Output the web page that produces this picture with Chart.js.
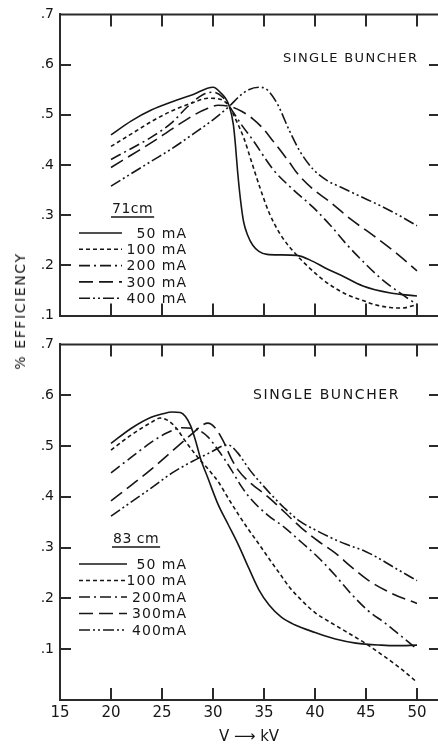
<!DOCTYPE html>
<html>
<head>
<meta charset="utf-8">
<title>% Efficiency vs V — single buncher</title>
<script src="https://cdn.jsdelivr.net/npm/chart.js@4.4.1/dist/chart.umd.min.js"></script>
<style>
  html, body { margin: 0; padding: 0; background: #fff; overflow: hidden; }
  #page { position: relative; width: 438px; height: 748px; }
  .box { position: absolute; left: 0; width: 438px; }
  #boxTop { top: 0; height: 330px; }
  #boxBot { top: 330px; height: 418px; }
  #yTitle {
    position: absolute; left: 20px; top: 311px;
    transform: translate(-50%, -50%) rotate(-90deg);
    font: 14px "DejaVu Sans", sans-serif; letter-spacing: 1.6px;
    color: #161616; white-space: nowrap;
  }
</style>
</head>
<body>
<div id="page">
  <div class="box" id="boxTop"><canvas id="chartTop"></canvas></div>
  <div class="box" id="boxBot"><canvas id="chartBot"></canvas></div>
  <div id="yTitle">% EFFICIENCY</div>
</div>
<script>
// ===== Valores (kV, eficiência)
const labels71 = ['50 mA', '100 mA', '200 mA', '300 mA', '400 mA'];
const labels83 = ['50 mA', '100 mA', '200mA', '300mA', '400mA'];

// --- 71 cm
const kv71_50   = [20, 22, 24, 26, 28, 30, 30.7, 31.6, 32, 32.2, 32.4, 32.7, 33, 33.4, 33.9, 34.5, 35.3, 36.5, 38.2, 39.8, 41, 42.5, 44.7, 47.4, 50];
const eff71_50  = [0.46, 0.488, 0.51, 0.526, 0.54, 0.555, 0.545, 0.517, 0.48, 0.44, 0.39, 0.33, 0.287, 0.26, 0.24, 0.228, 0.222, 0.221, 0.22, 0.208, 0.195, 0.181, 0.159, 0.145, 0.139];
const kv71_100  = [20, 22, 24, 26, 28, 29.5, 30.5, 31.6, 32.2, 33, 33.8, 34.6, 35.5, 36.6, 38, 39.2, 40.5, 41.5, 43, 44.7, 46, 47.4, 48.5, 50];
const eff71_100 = [0.437, 0.462, 0.487, 0.508, 0.524, 0.533, 0.532, 0.517, 0.492, 0.455, 0.405, 0.355, 0.305, 0.262, 0.225, 0.2, 0.176, 0.161, 0.143, 0.13, 0.121, 0.116, 0.115, 0.122];
const kv71_200  = [20, 22, 24, 26, 27.5, 29, 30, 31, 31.6, 32.8, 33.9, 35.9, 37.8, 39.8, 41.5, 43.1, 44.8, 46.4, 48.2, 50];
const eff71_200 = [0.411, 0.433, 0.456, 0.485, 0.516, 0.54, 0.545, 0.534, 0.517, 0.48, 0.45, 0.391, 0.352, 0.316, 0.28, 0.242, 0.206, 0.175, 0.147, 0.122];
const kv71_300  = [20, 22, 24, 26, 28, 29.5, 30.5, 31.6, 32.8, 33.9, 34.8, 35.8, 37.5, 38.2, 39.8, 41.5, 43.5, 45.7, 48, 50];
const eff71_300 = [0.395, 0.42, 0.445, 0.472, 0.498, 0.513, 0.519, 0.517, 0.507, 0.492, 0.475, 0.45, 0.405, 0.385, 0.352, 0.326, 0.292, 0.26, 0.224, 0.189];
const kv71_400  = [20, 22, 24, 26, 28, 30, 31.6, 32.6, 33.5, 34.5, 35.3, 36.3, 37.5, 38.5, 39.8, 41.2, 42.5, 44.5, 46.4, 48.2, 50];
const eff71_400 = [0.358, 0.383, 0.408, 0.433, 0.461, 0.49, 0.517, 0.537, 0.55, 0.555, 0.55, 0.522, 0.468, 0.428, 0.392, 0.369, 0.356, 0.337, 0.319, 0.3, 0.279];

// --- 83 cm
const kv83_50   = [20, 22, 24, 25, 26, 26.8, 27.3, 27.8, 28.3, 28.8, 29.5, 30.5, 31.5, 32.5, 33.5, 34.5, 35.5, 36.7, 38, 40, 42, 44, 46.5, 48, 50];
const eff83_50  = [0.505, 0.535, 0.557, 0.563, 0.567, 0.566, 0.558, 0.54, 0.51, 0.474, 0.437, 0.385, 0.345, 0.305, 0.26, 0.217, 0.187, 0.163, 0.148, 0.133, 0.12, 0.112, 0.108, 0.107, 0.108];
const kv83_100  = [20, 22, 24, 24.8, 25.6, 26.5, 27.2, 28.5, 29.5, 30.5, 31.5, 32.5, 33.5, 34.5, 35.5, 36.5, 37.5, 38.5, 40, 41.5, 43, 44.9, 46.5, 48.4, 50];
const eff83_100 = [0.492, 0.522, 0.547, 0.555, 0.55, 0.533, 0.512, 0.478, 0.455, 0.43, 0.397, 0.365, 0.335, 0.307, 0.278, 0.25, 0.222, 0.2, 0.172, 0.153, 0.135, 0.112, 0.09, 0.062, 0.035];
const kv83_200  = [20, 22, 24, 25.5, 27, 28.5, 29.5, 30.5, 31.2, 31.8, 32.8, 33.7, 35.3, 37, 38.7, 40.3, 42, 43.5, 45.2, 46.9, 48.5, 50];
const eff83_200 = [0.447, 0.478, 0.508, 0.526, 0.536, 0.532, 0.518, 0.492, 0.472, 0.453, 0.42, 0.396, 0.365, 0.34, 0.31, 0.281, 0.245, 0.21, 0.176, 0.151, 0.125, 0.1];
const kv83_300  = [20, 22, 24, 26, 28, 28.8, 29.5, 30.2, 31, 31.8, 32.45, 33.5, 35.4, 37, 38.6, 40.3, 42, 43.5, 45.2, 47.5, 50];
const eff83_300 = [0.392, 0.423, 0.455, 0.49, 0.525, 0.539, 0.545, 0.536, 0.51, 0.475, 0.453, 0.43, 0.4, 0.37, 0.34, 0.313, 0.289, 0.263, 0.236, 0.21, 0.19];
const kv83_400  = [20, 22, 24, 26, 28, 30, 30.8, 31.5, 32.4, 33.6, 35, 36, 37, 38.5, 40, 41.5, 43, 45, 46.5, 48, 50];
const eff83_400 = [0.362, 0.39, 0.418, 0.447, 0.47, 0.49, 0.499, 0.502, 0.487, 0.453, 0.42, 0.398, 0.378, 0.352, 0.335, 0.32, 0.307, 0.292, 0.276, 0.258, 0.235];

// ===== Estilo
const FONT = '"DejaVu Sans", sans-serif';
const INK = '#161616';
const AXIS = '#2a2a2a';
const DASHES = [[], [4, 3], [11, 4, 2, 4], [14, 6], [11, 3, 2, 3, 2, 3]];

function pts(xs, ys) { return xs.map((v, i) => ({ x: v, y: ys[i] })); }

function makeDatasets(labels, pairs) {
  return pairs.map(([xs, ys], i) => ({
    label: labels[i],
    data: pts(xs, ys),
    borderColor: INK,
    borderWidth: 1.6,
    borderDash: DASHES[i],
    pointRadius: 0,
    fill: false,
    cubicInterpolationMode: 'monotone'
  }));
}

function seg(ctx, x0, y0, x1, y1) {
  ctx.beginPath(); ctx.moveTo(x0, y0); ctx.lineTo(x1, y1); ctx.stroke();
}

// moldura de cima, ticks para dentro, título e legenda dentro do gráfico
const notesPlugin = {
  id: 'notes',
  afterDraw(chart, _args, o) {
    const { ctx, chartArea: a, scales: { x, y } } = chart;
    ctx.save();
    ctx.strokeStyle = AXIS; ctx.lineWidth = 2; ctx.setLineDash([]);
    seg(ctx, a.left - 1, a.top, a.right, a.top);
    x.ticks.forEach(t => {
      if (t.value <= x.min + 1e-6) return;
      const px = Math.round(x.getPixelForValue(t.value));
      seg(ctx, px, a.top, px, a.top + 12);
      seg(ctx, px, a.bottom, px, a.bottom - 12);
    });
    y.ticks.forEach(t => {
      if (t.value <= y.min + 1e-6 || t.value >= y.max - 1e-6) return;
      const py = Math.round(y.getPixelForValue(t.value));
      seg(ctx, a.left, py, a.left + 11, py);
      seg(ctx, a.right - 9, py, a.right, py);
    });

    ctx.fillStyle = INK;
    ctx.textAlign = 'left'; ctx.textBaseline = 'alphabetic';
    ctx.font = `${o.titleSize}px ${FONT}`;
    ctx.letterSpacing = o.titleSpacing + 'px';
    ctx.fillText(o.title, o.titleX, o.titleY);

    ctx.font = `14px ${FONT}`;
    ctx.letterSpacing = '0.5px';
    ctx.fillText(o.header, o.headerX, o.headerY);
    const hw = ctx.measureText(o.header).width;
    ctx.lineWidth = 1.6; ctx.strokeStyle = INK;
    seg(ctx, o.headerX - 1, o.headerY + 4, o.headerX + hw + 1, o.headerY + 4);

    ctx.letterSpacing = '1px';
    ctx.textAlign = 'right'; ctx.textBaseline = 'middle';
    chart.data.datasets.forEach((ds, i) => {
      const ry = o.rowY + i * o.rowDy;
      ctx.setLineDash(ds.borderDash);
      seg(ctx, o.lineX0, ry, o.lineX1, ry);
      ctx.setLineDash([]);
      ctx.fillText(ds.label, o.textRight, ry + 1);
    });
    ctx.restore();
  }
};

function panelOptions(yMin, xAxisH, showX, notes) {
  return {
    responsive: true,
    maintainAspectRatio: false,
    animation: false,
    layout: { padding: { top: 13, left: 0, right: 0, bottom: 0 } },
    plugins: { legend: { display: false }, tooltip: { enabled: false }, notes },
    scales: {
      x: {
        type: 'linear', min: 15, max: 52.06,
        grid: { display: false, drawTicks: false },
        border: { display: true, color: AXIS, width: 2 },
        ticks: {
          display: showX, stepSize: 5, includeBounds: false, padding: 4,
          maxRotation: 0, autoSkip: false, color: INK,
          font: { family: FONT, size: 15 }
        },
        title: {
          display: showX, text: 'V ⟶ kV', color: INK,
          font: { family: FONT, size: 15 }, padding: { top: 0, bottom: 2 }
        },
        afterFit: s => { s.height = xAxisH; }
      },
      y: {
        type: 'linear', min: yMin, max: 0.7,
        grid: { display: false, drawTicks: false },
        border: { display: true, color: AXIS, width: 2 },
        ticks: {
          stepSize: 0.1, padding: 6, color: INK,
          font: { family: FONT, size: 14 },
          callback: v => v < 0.05 ? '' : v.toFixed(1).replace(/^0/, '')
        },
        afterFit: s => { s.width = 60; }
      }
    }
  };
}

new Chart(document.getElementById('chartTop'), {
  type: 'line',
  data: {
    datasets: makeDatasets(labels71, [
      [kv71_50, eff71_50], [kv71_100, eff71_100], [kv71_200, eff71_200],
      [kv71_300, eff71_300], [kv71_400, eff71_400]
    ])
  },
  options: panelOptions(0.1, 12, false, {
    title: 'SINGLE BUNCHER', titleX: 283, titleY: 62, titleSize: 13, titleSpacing: 1.4,
    header: '71cm', headerX: 112, headerY: 213,
    rowY: 233, rowDy: 16.3, lineX0: 79, lineX1: 122, textRight: 187
  }),
  plugins: [notesPlugin]
});

new Chart(document.getElementById('chartBot'), {
  type: 'line',
  data: {
    datasets: makeDatasets(labels83, [
      [kv83_50, eff83_50], [kv83_100, eff83_100], [kv83_200, eff83_200],
      [kv83_300, eff83_300], [kv83_400, eff83_400]
    ])
  },
  options: panelOptions(0, 48, true, {
    title: 'SINGLE BUNCHER', titleX: 253, titleY: 69, titleSize: 14, titleSpacing: 1.6,
    header: '83 cm', headerX: 113, headerY: 213,
    rowY: 234, rowDy: 16.5, lineX0: 79, lineX1: 127, textRight: 187
  }),
  plugins: [notesPlugin]
});
</script>
</body>
</html>
